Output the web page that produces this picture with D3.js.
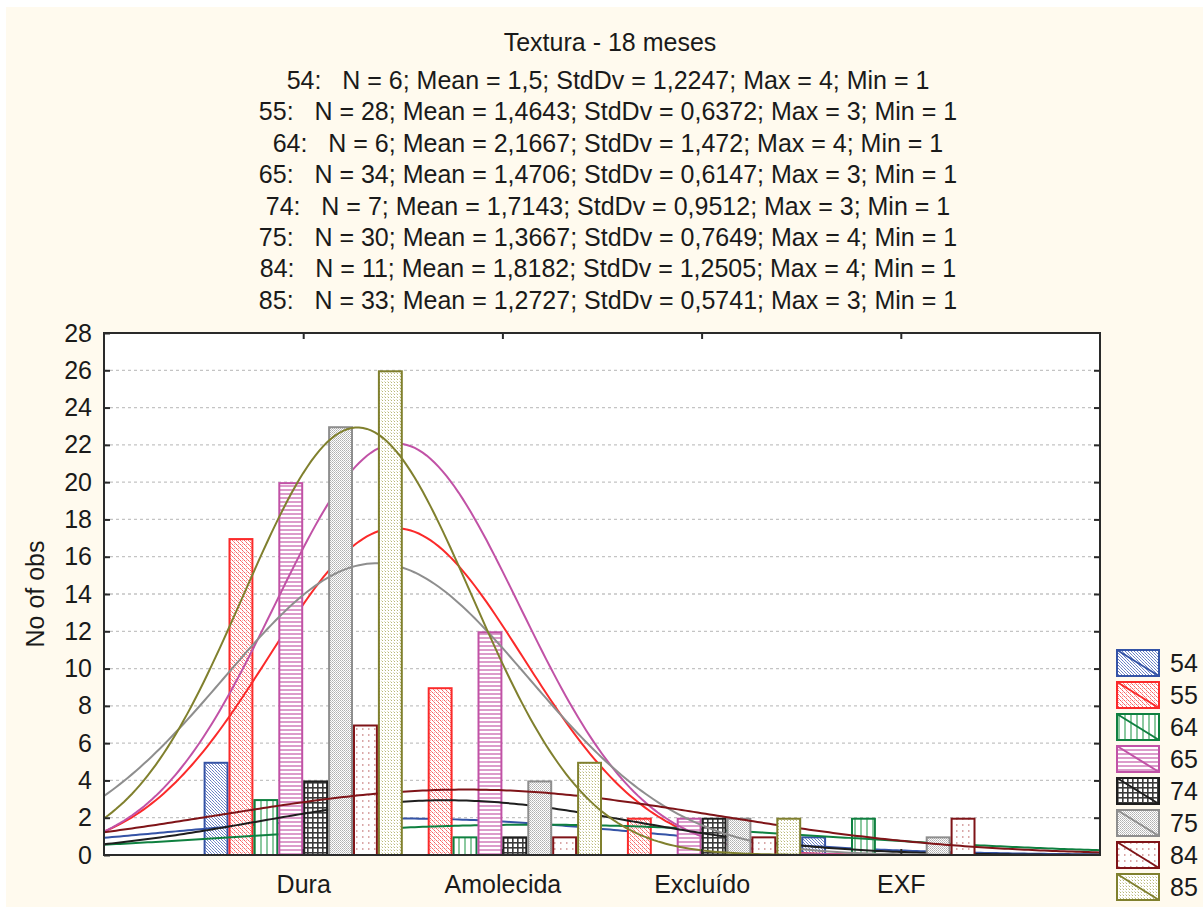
<!DOCTYPE html>
<html>
<head>
<meta charset="utf-8">
<script src="https://cdn.jsdelivr.net/npm/d3@7/dist/d3.min.js"></script>
<style>
html,body{margin:0;padding:0;background:#ffffff;}
svg{display:block;}
text{font-family:"Liberation Sans",Arial,sans-serif;fill:#1a1a1a;}
</style>
</head>
<body>
<svg id="chart" width="1203" height="907"></svg>
<script>
// ---------- DATA ----------
const categories = ["Dura", "Amolecida", "Excluído", "EXF"];
const seriesNames = ["54", "55", "64", "65", "74", "75", "84", "85"];
const counts54 = [5, 0, 0, 1];
const counts55 = [17, 9, 2, 0];
const counts64 = [3, 1, 0, 2];
const counts65 = [20, 12, 2, 0];
const counts74 = [4, 1, 2, 0];
const counts75 = [23, 4, 2, 1];
const counts84 = [7, 1, 1, 2];
const counts85 = [26, 5, 2, 0];
const statN    = [6, 28, 6, 34, 7, 30, 11, 33];
const statMean = [1.5, 1.4643, 2.1667, 1.4706, 1.7143, 1.3667, 1.8182, 1.2727];
const statSd   = [1.2247, 0.6372, 1.472, 0.6147, 0.9512, 0.7649, 1.2505, 0.5741];
const statMax  = [4, 3, 4, 3, 3, 4, 4, 3];
const statMin  = [1, 1, 1, 1, 1, 1, 1, 1];
const yTicks = [0, 2, 4, 6, 8, 10, 12, 14, 16, 18, 20, 22, 24, 26, 28];
const titleText = "Textura - 18 meses";
const yLabel = "No of obs";

const allCounts = [counts54, counts55, counts64, counts65, counts74, counts75, counts84, counts85];

// ---------- STYLE ----------
const strokeColors = ["#3453a6", "#fb2a2a", "#0f8040", "#c152a6", "#1e1e1e", "#8e8e8e", "#7f1418", "#80802e"];
const curveColors  = ["#3453a6", "#fb2a2a", "#0f8040", "#c152a6", "#1e1e1e", "#8e8e8e", "#7f1418", "#80802e"];

const W = 1203, H = 907;
const plot = {l: 104, r: 1100, t: 333, b: 855};
const FONT = 25;

const svg = d3.select("#chart");
svg.append("rect").attr("x", 6).attr("y", 7).attr("width", W - 6).attr("height", H - 7).attr("fill", "#fffaee");

// ---------- PATTERNS ----------
const defs = svg.append("defs");
function pat(id, w, h, build) {
  const p = defs.append("pattern").attr("id", id).attr("patternUnits", "userSpaceOnUse")
    .attr("width", w).attr("height", h);
  p.append("rect").attr("width", w).attr("height", h).attr("fill", "#ffffff");
  build(p);
}
// 54 blue fine diagonal dots
pat("p0", 3, 3, p => {
  p.append("rect").attr("x", 0).attr("y", 0).attr("width", 1).attr("height", 1).attr("fill", "#6a80c4");
  p.append("rect").attr("x", 1).attr("y", 1).attr("width", 1).attr("height", 1).attr("fill", "#8898d0");
  p.append("rect").attr("x", 2).attr("y", 2).attr("width", 1).attr("height", 1).attr("fill", "#6a80c4");
});
// 55 red fine
pat("p1", 4, 4, p => {
  p.append("rect").attr("x", 0).attr("y", 0).attr("width", 1).attr("height", 1).attr("fill", "#f86060");
  p.append("rect").attr("x", 1).attr("y", 1).attr("width", 1).attr("height", 1).attr("fill", "#fb8c8c");
  p.append("rect").attr("x", 2).attr("y", 2).attr("width", 1).attr("height", 1).attr("fill", "#f86060");
  p.append("rect").attr("x", 3).attr("y", 3).attr("width", 1).attr("height", 1).attr("fill", "#fb8c8c");
  p.append("rect").attr("x", 2).attr("y", 0).attr("width", 1).attr("height", 1).attr("fill", "#fbb0b0");
});
// 64 green vertical lines
pat("p2", 6, 6, p => {
  p.append("rect").attr("x", 2).attr("y", 0).attr("width", 2).attr("height", 6).attr("fill", "#8cc9a0");
});
// 65 pink horizontal lines
pat("p3", 4, 4, p => {
  p.append("rect").attr("x", 0).attr("y", 1).attr("width", 4).attr("height", 2).attr("fill", "#dc9ccb");
});
// 74 black grid
pat("p4", 5, 5, p => {
  p.append("rect").attr("x", 0).attr("y", 2).attr("width", 5).attr("height", 1.6).attr("fill", "#3a3a3a");
  p.append("rect").attr("x", 2).attr("y", 0).attr("width", 1.6).attr("height", 5).attr("fill", "#3a3a3a");
});
// 75 gray fine checker
pat("p5", 2, 2, p => {
  p.append("rect").attr("x", 0).attr("y", 0).attr("width", 1).attr("height", 1).attr("fill", "#b0b0b0");
  p.append("rect").attr("x", 1).attr("y", 1).attr("width", 1).attr("height", 1).attr("fill", "#c4c4c4");
});
// 84 dark red sparse dots
pat("p6", 6, 6, p => {
  p.append("rect").attr("x", 2).attr("y", 2).attr("width", 1.5).attr("height", 2).attr("fill", "#d9a8a8");
});
// 85 olive fine dots
pat("p7", 3, 3, p => {
  p.append("rect").attr("x", 1).attr("y", 1).attr("width", 1).attr("height", 1).attr("fill", "#b8b878");
  p.append("rect").attr("x", 0).attr("y", 0).attr("width", 1).attr("height", 1).attr("fill", "#e0e0c0");
});

// ---------- SCALES ----------
const x = d3.scaleLinear().domain([0, 5]).range([plot.l, plot.r]);
const y = d3.scaleLinear().domain([0, 28]).range([plot.b, plot.t]);

// plot background
svg.append("rect").attr("x", plot.l).attr("y", plot.t).attr("width", plot.r - plot.l).attr("height", plot.b - plot.t)
  .attr("fill", "#ffffff");

// gridlines
svg.append("g").selectAll("line").data(yTicks.filter(v => v > 0 && v < 28)).join("line")
  .attr("x1", plot.l).attr("x2", plot.r).attr("y1", d => y(d)).attr("y2", d => y(d))
  .attr("stroke", "#c4c4c4").attr("stroke-width", 1.3).attr("stroke-dasharray", "3,3");

// clip
defs.append("clipPath").attr("id", "clip").append("rect")
  .attr("x", plot.l).attr("y", plot.t).attr("width", plot.r - plot.l).attr("height", plot.b - plot.t);

const gMarks = svg.append("g").attr("clip-path", "url(#clip)");
const barW = 1 / seriesNames.length;
const line = d3.line().x(d => x(d[0])).y(d => y(d[1])).curve(d3.curveLinear);
const xs = d3.range(0, 5.0001, 0.02);

seriesNames.forEach((s, i) => {
  const counts = allCounts[i];
  const bars = counts.map((v, c) => ({v, c})).filter(d => d.v > 0);
  gMarks.append("g").selectAll("rect").data(bars).join("rect")
    .attr("x", d => x(d.c + 1 - 0.5 + i * barW) + 1)
    .attr("width", d => x(d.c + 1 - 0.5 + (i + 1) * barW) - x(d.c + 1 - 0.5 + i * barW) - 2)
    .attr("y", d => y(d.v) + 1)
    .attr("height", d => y(0) - y(d.v) - 1)
    .attr("fill", `url(#p${i})`)
    .attr("stroke", strokeColors[i]).attr("stroke-width", 2);
  const n = statN[i], m = statMean[i], sd = statSd[i];
  const pts = xs.map(xx => [xx, n * Math.exp(-0.5 * ((xx - m) / sd) ** 2) / (sd * Math.sqrt(2 * Math.PI))]);
  gMarks.append("path").datum(pts).attr("d", line).attr("fill", "none")
    .attr("stroke", curveColors[i]).attr("stroke-width", 2);
});

// frame
svg.append("rect").attr("x", plot.l).attr("y", plot.t).attr("width", plot.r - plot.l).attr("height", plot.b - plot.t)
  .attr("fill", "none").attr("stroke", "#2a2a2a").attr("stroke-width", 2);

// axes
const yAxisL = d3.axisLeft(y).tickValues(yTicks).tickSizeInner(-6).tickSizeOuter(0).tickPadding(12);
const gy = svg.append("g").attr("transform", `translate(${plot.l},0)`).call(yAxisL);
gy.select(".domain").remove();
gy.selectAll(".tick line").attr("stroke", "#2a2a2a").attr("stroke-width", 2);
gy.selectAll(".tick text").style("font-size", FONT + "px").attr("fill", "#1a1a1a")
  .style("font-family", '"Liberation Sans",Arial,sans-serif');

const yAxisR = d3.axisRight(y).tickValues(yTicks.filter(v => v > 0 && v < 28)).tickSizeInner(-6).tickSizeOuter(0).tickFormat("");
const gyr = svg.append("g").attr("transform", `translate(${plot.r},0)`).call(yAxisR);
gyr.select(".domain").remove();
gyr.selectAll(".tick line").attr("stroke", "#2a2a2a").attr("stroke-width", 2);

const catTicks = categories.map((c, i) => i + 1);
const xAxisB = d3.axisBottom(x).tickValues(catTicks).tickSizeInner(-6).tickSizeOuter(0).tickPadding(20)
  .tickFormat((d, i) => categories[i]);
const gx = svg.append("g").attr("transform", `translate(0,${plot.b})`).call(xAxisB);
gx.select(".domain").remove();
gx.selectAll(".tick line").attr("stroke", "#2a2a2a").attr("stroke-width", 2);
gx.selectAll(".tick text").style("font-size", FONT + "px").attr("fill", "#1a1a1a")
  .style("font-family", '"Liberation Sans",Arial,sans-serif');

const xAxisT = d3.axisTop(x).tickValues(catTicks).tickSizeInner(-6).tickSizeOuter(0).tickFormat("");
const gxt = svg.append("g").attr("transform", `translate(0,${plot.t})`).call(xAxisT);
gxt.select(".domain").remove();
gxt.selectAll(".tick line").attr("stroke", "#2a2a2a").attr("stroke-width", 2);

// y label
svg.append("text").attr("transform", `translate(44,${(plot.t + plot.b) / 2}) rotate(-90)`)
  .attr("text-anchor", "middle").style("font-size", FONT + "px").text(yLabel);

// title + stats
svg.append("text").attr("x", 610).attr("y", 51).attr("text-anchor", "middle").style("font-size", FONT + "px").text(titleText);
const fmt = v => v.toFixed(4).replace(/0+$/, "").replace(/\.$/, "").replace(".", ",");
seriesNames.forEach((s, i) => {
  const t = `${s}:   N = ${statN[i]}; Mean = ${fmt(statMean[i])}; StdDv = ${fmt(statSd[i])}; Max = ${statMax[i]}; Min = ${statMin[i]}`;
  svg.append("text").attr("x", 608).attr("y", 89 + i * 31.4).attr("text-anchor", "middle")
    .style("font-size", FONT + "px").style("white-space", "pre").text(t);
});

// legend
const lg = svg.append("g");
seriesNames.forEach((s, i) => {
  const ly = 650 + i * 32;
  lg.append("rect").attr("x", 1117).attr("y", ly).attr("width", 42).attr("height", 26)
    .attr("fill", `url(#p${i})`).attr("stroke", strokeColors[i]).attr("stroke-width", 2);
  lg.append("line").attr("x1", 1117).attr("y1", ly).attr("x2", 1159).attr("y2", ly + 26)
    .attr("stroke", strokeColors[i]).attr("stroke-width", 2);
  lg.append("text").attr("x", 1170).attr("y", ly + 22).style("font-size", FONT + "px").text(s);
});
</script>
</body>
</html>
